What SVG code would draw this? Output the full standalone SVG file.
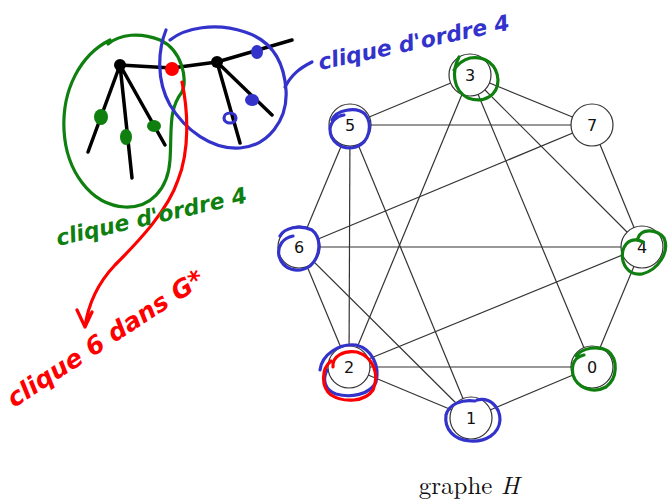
<svg xmlns="http://www.w3.org/2000/svg" width="669" height="500" viewBox="0 0 669 500">
<style>
.e{stroke:#333;stroke-width:1.2;fill:none}
.n circle{fill:#fff;stroke:#333;stroke-width:1.2}
.n text{font-family:"DejaVu Sans",sans-serif;font-size:16px;fill:#111;text-anchor:middle;dominant-baseline:central}
.ink{fill:none;stroke-linecap:round;stroke-linejoin:round}
.g{stroke:#0f7f0f;stroke-width:3.2}
.b{stroke:#3333cc;stroke-width:3.2}
.r{stroke:#ff0000;stroke-width:3.2}
.k{stroke:#000;stroke-width:3.5}
.hw{font-family:"DejaVu Sans",sans-serif;font-style:italic;font-weight:bold}
</style>
<rect width="669" height="500" fill="#fff"/>
<g id="connectors">
<line class="e" x1="470" y1="75" x2="350" y2="125"/>
<line class="e" x1="470" y1="75" x2="592" y2="125"/>
<line class="e" x1="350" y1="125" x2="592" y2="125"/>
<line class="e" x1="350" y1="125" x2="299" y2="247"/>
<line class="e" x1="350" y1="125" x2="349" y2="367"/>
<line class="e" x1="350" y1="125" x2="471" y2="418"/>
<line class="e" x1="470" y1="75" x2="349" y2="367"/>
<line class="e" x1="470" y1="75" x2="592" y2="367"/>
<line class="e" x1="470" y1="75" x2="642" y2="247"/>
<line class="e" x1="592" y1="125" x2="299" y2="247"/>
<line class="e" x1="592" y1="125" x2="642" y2="247"/>
<line class="e" x1="299" y1="247" x2="642" y2="247"/>
<line class="e" x1="299" y1="247" x2="349" y2="367"/>
<line class="e" x1="299" y1="247" x2="471" y2="418"/>
<line class="e" x1="642" y1="247" x2="349" y2="367"/>
<line class="e" x1="642" y1="247" x2="592" y2="367"/>
<line class="e" x1="349" y1="367" x2="592" y2="367"/>
<line class="e" x1="349" y1="367" x2="471" y2="418"/>
<line class="e" x1="471" y1="418" x2="592" y2="367"/>
</g>
<g id="node3" class="n"><circle cx="470" cy="75" r="21"/><text x="470" y="75">3</text></g>
<g id="node5" class="n"><circle cx="350" cy="125" r="21"/><text x="350" y="125">5</text></g>
<g id="node7" class="n"><circle cx="592" cy="125" r="21"/><text x="592" y="125">7</text></g>
<g id="node6" class="n"><circle cx="299" cy="247" r="21"/><text x="299" y="247">6</text></g>
<g id="node4" class="n"><circle cx="642" cy="247" r="21"/><text x="642" y="247">4</text></g>
<g id="node2" class="n"><circle cx="349" cy="367" r="21"/><text x="349" y="367">2</text></g>
<g id="node0" class="n"><circle cx="592" cy="367" r="21"/><text x="592" y="367">0</text></g>
<g id="node1" class="n"><circle cx="471" cy="418" r="21"/><text x="471" y="418">1</text></g>
<text x="469" y="494" font-family="'Latin Modern Roman','Liberation Serif',serif" font-size="25" text-anchor="middle" fill="#111">graphe <tspan font-style="italic">H</tspan></text>
<g id="annotations">
<path class="ink g" d="M459,57 C452,70 452,90 468,98 C484,104 498,95 498,80 C497,64 485,56 470,58 C463,60 457,65 454,70"/>
<path class="ink b" d="M332,120 C336,110 356,106 365,114 C373,124 370,142 356,147 C341,151 330,141 330,129 C331,121 337,116 344,115"/>
<path class="ink b" d="M280,236 C284,228 300,224 312,230 C322,238 321,256 310,266 C298,274 283,270 279,256 C277,246 283,238 293,236"/>
<path class="ink g" d="M638,238 C641,229 656,228 664,238 C670,252 658,270 642,274 C628,276 620,263 623,250 C626,241 634,237 643,242"/>
<path class="ink g" d="M576,356 C582,348 598,345 608,351 C618,359 618,378 606,387 C593,394 577,388 573,375 C571,364 575,357 584,355"/>
<path class="ink b" d="M477,400 C490,397 500,407 500,420 C499,434 486,442 470,441 C454,440 444,429 446,415 C449,404 462,399 475,401"/>
<path class="ink b" d="M320,370 C322,354 340,343 356,345 C372,349 380,366 376,382 C370,395 350,398 336,394 C325,390 322,380 327,370"/>
<path class="ink r" d="M333,367 C332,356 344,350 357,352 C373,357 380,374 373,390 C365,402 344,403 331,395 C321,387 321,369 331,361"/>
</g>
<g id="sketch">
<path class="ink k" d="M120,65 L172,68 L217,62 L292,40"/>
<path class="ink k" d="M120,65 L88,152 M120,65 L132,178 M120,65 L165,145"/>
<path class="ink k" d="M217,62 L272,115 M217,62 L240,143"/>
<circle cx="120" cy="65" r="6" fill="#000"/>
<circle cx="217" cy="62" r="6" fill="#000"/>
<circle cx="172" cy="69" r="7" fill="#ff0000"/>
<ellipse cx="101" cy="117" rx="7" ry="8" fill="#0f7f0f"/>
<ellipse cx="126" cy="137" rx="6" ry="8" fill="#0f7f0f"/>
<ellipse cx="154" cy="126" rx="7" ry="6" fill="#0f7f0f"/>
<ellipse cx="257" cy="52" rx="6" ry="7" fill="#3333cc"/>
<ellipse cx="252" cy="100" rx="7" ry="6" fill="#3333cc"/>
<ellipse cx="230" cy="118" rx="6" ry="5" class="ink b" stroke-width="2.5"/>
<path class="ink g" d="M110,40 C80,55 62,90 64,130 C66,170 90,205 125,207 C150,208 168,190 170,160 C172,130 168,110 182,92 C188,80 182,50 160,40 C140,32 120,34 108,44"/>
<path class="ink b" d="M166,30 C158,50 156,80 170,105 C185,130 212,150 240,148 C268,146 288,120 286,90 C284,60 270,40 245,32 C215,22 185,28 170,40"/>
<path class="ink b" d="M285,87 C292,74 300,68 312,62"/>
<path class="ink r" d="M182,82 C188,110 190,150 178,180 C168,210 140,240 115,265 C98,283 88,305 85,327 M77,310 L85,327 L92,312"/>
<text class="hw" x="320" y="70" font-size="22" fill="#3333cc" transform="rotate(-12 320 70)">clique d'ordre 4</text>
<text class="hw" x="58" y="246" font-size="22" fill="#0f7f0f" transform="rotate(-13 58 246)">clique d'ordre 4</text>
<text class="hw" x="14" y="408" font-size="25" fill="#ff0000" transform="rotate(-33 14 408)">clique 6 dans G*</text>
</g>
</svg>
